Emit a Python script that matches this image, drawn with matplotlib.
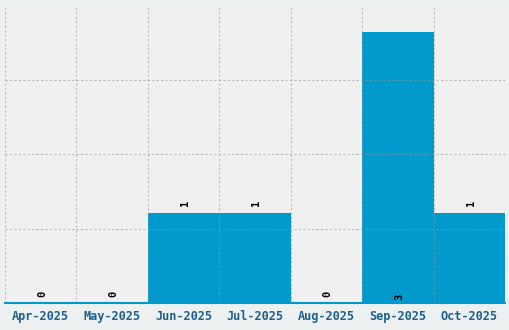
import numpy as np
import matplotlib.pyplot as plt

months = ["Apr-2025", "May-2025", "Jun-2025", "Jul-2025", "Aug-2025", "Sep-2025", "Oct-2025"]
counts = [0, 0, 1, 1, 0, 3, 1]

bar_color = "#0099cc"
label_color = "#1f5f8b"

fig = plt.figure(figsize=(5.1, 3.3), dpi=100)
fig.patch.set_facecolor("#edf0f0")
ax = fig.add_axes([5 / 510, 27 / 330, 500 / 510, 298 / 330])
ax.set_facecolor("#f0f0f0")

x = np.arange(len(months))
ax.bar(x, counts, width=1.0, color=bar_color, zorder=2)

ymax = 3.3
ax.set_xlim(-0.5, len(months) - 0.5)
ax.set_ylim(0, ymax)

# grid lines at the category boundaries and at quarter heights (no line at the very top)
ax.set_xticks(x)
ax.set_xticks(np.arange(len(months) + 1) - 0.5, minor=True)
ax.set_yticks(np.linspace(0, ymax, 5)[:-1])
ax.set_yticklabels([])
ax.grid(True, which="minor", axis="x", color="#999999", linestyle=(0, (2, 2)), linewidth=0.8, alpha=0.6, zorder=3)
ax.grid(True, which="major", axis="y", color="#999999", linestyle=(0, (2, 2)), linewidth=0.8, alpha=0.6, zorder=3)
ax.set_axisbelow(False)
ax.tick_params(axis="both", which="both", length=0)
ax.set_xticklabels(months, fontfamily="DejaVu Sans Mono", fontweight="bold", fontsize=8.6, color=label_color)
ax.tick_params(axis="x", pad=5)

for s in ["top", "right", "left"]:
    ax.spines[s].set_visible(False)
ax.spines["bottom"].set_color(bar_color)
ax.spines["bottom"].set_linewidth(1.5)
ax.spines["bottom"].set_zorder(4)

top = max(counts)
for xi, v in zip(x, counts):
    if v == top:
        ypos = 0.03
    else:
        ypos = v + 0.07
    ax.text(xi + 0.02, ypos, str(v), rotation=90, ha="center", va="bottom",
            fontfamily="DejaVu Sans Mono", fontweight="bold", fontsize=7.5, color="black", zorder=5)

fig.savefig("out.png", dpi=100, facecolor=fig.get_facecolor())
